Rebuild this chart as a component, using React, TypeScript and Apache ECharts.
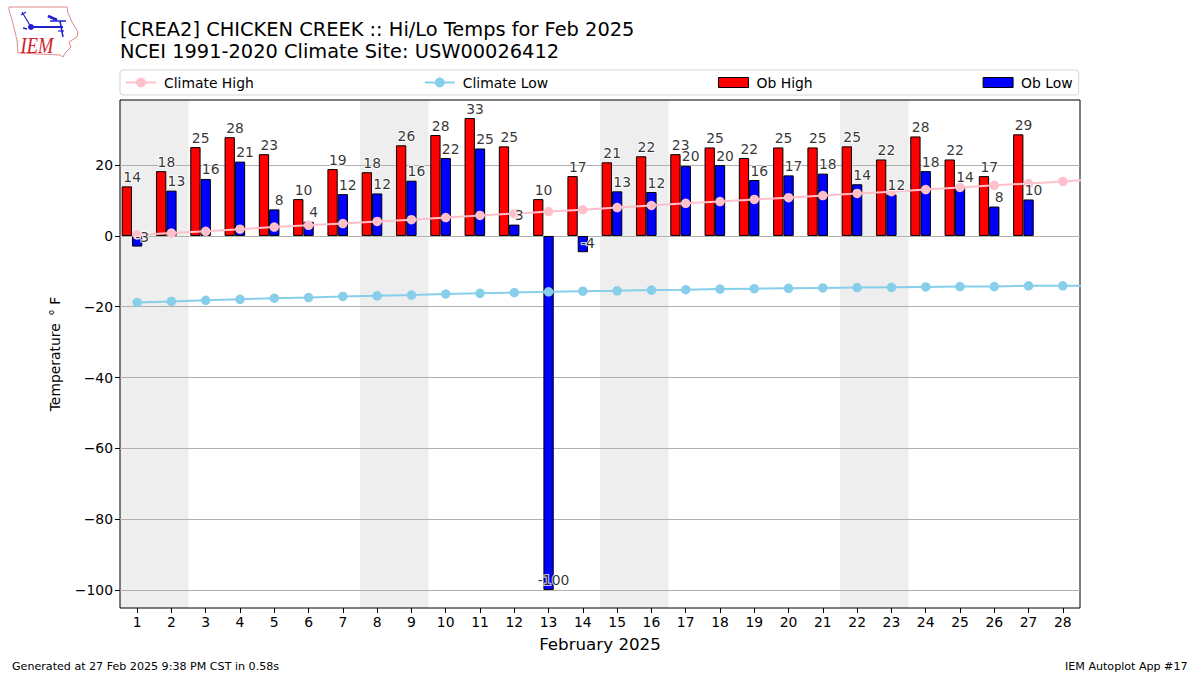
import React, { useEffect, useRef } from "react";
import * as echarts from "echarts";

const days = [1, 2, 3, 4, 5, 6, 7, 8, 9, 10, 11, 12, 13, 14, 15, 16, 17, 18, 19, 20, 21, 22, 23, 24, 25, 26, 27, 28];
const climateDays = [...days, 29];
const obHigh = [14.0, 18.3, 25.1, 27.9, 23.1, 10.4, 18.9, 18.0, 25.6, 28.5, 33.3, 25.3, 10.4, 16.9, 20.8, 22.5, 23.1, 25.0, 22.0, 25.0, 25.0, 25.3, 21.6, 28.1, 21.6, 16.9, 28.7];
const obLow = [-3.0, 12.8, 16.1, 21.0, 7.5, 4.0, 11.8, 12.0, 15.6, 22.0, 24.7, 3.2, -100, -4.6, 12.6, 12.4, 19.8, 20.0, 15.8, 17.1, 17.6, 14.6, 11.7, 18.3, 14.0, 8.3, 10.3];
const highLabels = ["14", "18", "25", "28", "23", "10", "19", "18", "26", "28", "33", "25", "10", "17", "21", "22", "23", "25", "22", "25", "25", "25", "22", "28", "22", "17", "29"];
const lowLabels = ["-3", "13", "16", "21", "8", "4", "12", "12", "16", "22", "25", "3", "-100", "-4", "13", "12", "20", "20", "16", "17", "18", "14", "12", "18", "14", "8", "10"];
const climateHigh = [0.3, 0.8, 1.3, 1.9, 2.5, 3.0, 3.5, 4.1, 4.6, 5.2, 5.8, 6.3, 6.9, 7.4, 8.0, 8.6, 9.2, 9.7, 10.3, 10.8, 11.4, 12.0, 12.5, 13.1, 13.7, 14.3, 14.8, 15.4, 16.0];
const climateLow = [-18.8, -18.5, -18.2, -17.9, -17.6, -17.4, -17.1, -16.9, -16.7, -16.4, -16.2, -16.0, -15.8, -15.6, -15.5, -15.3, -15.2, -15.0, -14.9, -14.8, -14.7, -14.6, -14.5, -14.4, -14.3, -14.3, -14.1, -14.1, -14.0];
const yTicks = [-100, -80, -60, -40, -20, 0, 20];
const weekendBands = [[0.5, 2.5], [7.5, 9.5], [14.5, 16.5], [21.5, 23.5]];

const FONT = "DejaVu Sans";
const IOWA = [[9, 7], [67, 7], [68, 13], [72, 22], [78, 32], [77, 37], [69, 42], [71, 47], [65, 53], [63, 57], [60, 55], [18, 53], [17, 40], [12, 20], [9, 10], [9, 7]];
const LOGO_BLUE = "#2222cc";
const blueLine = (x1: number, y1: number, x2: number, y2: number, lineWidth: number) => ({
  type: "line", shape: { x1, y1, x2, y2 }, style: { stroke: LOGO_BLUE, lineWidth },
});

export default function App() {
  const ref = useRef<HTMLDivElement>(null);
  useEffect(() => {
    const chart = echarts.init(ref.current!, null, { renderer: "svg" });
    const barStyle = (color: string) => ({ color, borderColor: "#000", borderWidth: 1 });
    const labelSeries = (name: string, vals: number[], labels: string[], dx: number) => ({
      type: "scatter",
      name,
      z: 6,
      silent: true,
      symbolSize: 1,
      itemStyle: { color: "transparent" },
      data: vals.map((v, i) => ({
        value: [days[i], v],
        label: { formatter: labels[i] },
      })),
      label: {
        show: true,
        position: "top",
        distance: 2,
        offset: [dx, 0],
        color: "#000",
        fontFamily: FONT,
        fontSize: 13.9,
        textBorderColor: "#fff",
        textBorderWidth: 2,
      },
    });
    chart.setOption({
      animation: false,
      title: {
        text: "[CREA2] CHICKEN CREEK :: Hi/Lo Temps for Feb 2025\nNCEI 1991-2020 Climate Site: USW00026412",
        left: 120,
        top: 18,
        padding: 0,
        textStyle: { fontFamily: FONT, fontSize: 19.4, fontWeight: "normal", color: "#000", lineHeight: 22.5 },
      },
      legend: {
        left: 120,
        top: 70,
        padding: [5.5, 6, 5.5, 5],
        itemGap: 170,
        itemWidth: 30,
        itemHeight: 10,
        borderColor: "#d5d5d5",
        borderWidth: 1,
        borderRadius: 3,
        data: [
          { name: "Climate High", itemStyle: { borderColor: "#ffc0cb", borderWidth: 2 } },
          { name: "Climate Low", itemStyle: { borderColor: "#87ceeb", borderWidth: 2 } },
          { name: "Ob High", icon: "rect", itemStyle: { borderColor: "#000", borderWidth: 1 } },
          { name: "Ob Low", icon: "rect", itemStyle: { borderColor: "#000", borderWidth: 1 } },
        ],
        textStyle: { fontFamily: FONT, fontSize: 13.9, color: "#000", padding: [0, 0, 0, 3] },
      },
      grid: { left: 120, right: 120, top: 100, bottom: 67, show: true, borderColor: "#000", borderWidth: 1, backgroundColor: "transparent" },
      xAxis: {
        type: "value",
        min: 0.5,
        max: 28.5,
        name: "February 2025",
        nameLocation: "middle",
        nameGap: 27,
        nameTextStyle: { fontFamily: FONT, fontSize: 16.7, color: "#000" },
        axisLine: { show: false, onZero: false },
        splitLine: { show: false },
        axisTick: { show: true, length: 5, customValues: days, lineStyle: { color: "#000" } },
        axisLabel: { customValues: days, fontFamily: FONT, fontSize: 13.9, color: "#000", margin: 7 },
      },
      yAxis: {
        type: "value",
        min: -105.1,
        max: 38.4,
        name: "Temperature \u2009\u00b0 F",
        nameLocation: "middle",
        nameGap: 58,
        nameTextStyle: { fontFamily: FONT, fontSize: 13.9, color: "#000" },
        axisLine: { show: false, onZero: false },
        axisTick: { show: true, length: 5, customValues: yTicks, lineStyle: { color: "#000" } },
        axisLabel: {
          customValues: yTicks,
          fontFamily: FONT,
          fontSize: 13.9,
          color: "#000",
          margin: 7,
          formatter: (v: number) => String(v).replace("-", "\u2212"),
        },
        splitLine: { show: true, lineStyle: { color: "#b0b0b0", width: 1 } },
      },
      series: [
        {
          type: "line",
          name: "__bands",
          z: -2,
          silent: true,
          data: [],
          markArea: {
            silent: true,
            z: -2,
            itemStyle: { color: "#eeeeee" },
            data: weekendBands.map(([a, b]) => [{ xAxis: a }, { xAxis: b }]),
          },
        },
        { type: "bar", name: "Ob High", z: 2, barWidth: 10.3, barGap: 0, itemStyle: barStyle("#ff0000"), data: obHigh.map((v, i) => [days[i], v]) },
        { type: "bar", name: "Ob Low", z: 2, barWidth: 10.3, barGap: 0, itemStyle: barStyle("#0000ff"), data: obLow.map((v, i) => [days[i], v]) },
        { type: "bar", name: "__spacer", z: 2, barWidth: 10.3, barGap: 0, data: [] },
        {
          type: "line", name: "Climate High", z: 4, symbol: "circle", symbolSize: 9.5, showSymbol: true,
          lineStyle: { color: "#ffc0cb", width: 2 }, itemStyle: { color: "#ffc0cb" },
          data: climateHigh.map((v, i) => [climateDays[i], v]),
        },
        {
          type: "line", name: "Climate Low", z: 4, symbol: "circle", symbolSize: 9.5, showSymbol: true,
          lineStyle: { color: "#87ceeb", width: 2 }, itemStyle: { color: "#87ceeb" },
          data: climateLow.map((v, i) => [climateDays[i], v]),
        },
        labelSeries("__highLabels", obHigh, highLabels, -5),
        labelSeries("__lowLabels", obLow, lowLabels, 5),
      ],
      graphic: [
        { type: "polyline", shape: { points: IOWA }, style: { stroke: "#e08a8a", fill: "none", lineWidth: 1 } },
        blueLine(31, 27, 63, 27, 2),
        { type: "circle", shape: { cx: 31, cy: 27, r: 3 }, style: { fill: LOGO_BLUE } },
        blueLine(48, 16, 57, 20, 3),
        blueLine(50, 21, 66, 21, 1.5),
        blueLine(60, 21, 63, 37, 1.5),
        blueLine(58, 31, 64, 31, 1.2),
        blueLine(22, 12, 31, 27, 1.2),
        blueLine(21, 15, 26, 12, 1.2),
        blueLine(23, 28, 27, 29, 1.5),
        { type: "text", x: 20.5, y: 34, scaleY: 1.2, style: { text: "IEM", fontFamily: "Liberation Serif", fontStyle: "italic", fontSize: 18.5, fill: "#d0202a" } },
        { type: "text", x: 12, y: 661, style: { text: "Generated at 27 Feb 2025 9:38 PM CST in 0.58s", fontFamily: FONT, fontSize: 11.1, fill: "#000" } },
        { type: "text", x: 1065, y: 661, style: { text: "IEM Autoplot App #17", fontFamily: FONT, fontSize: 11.1, fill: "#000" } },
      ],
    });
    return () => chart.dispose();
  }, []);
  return <div ref={ref} style={{ position: "absolute", left: 0, top: 0, width: 1200, height: 675 }} />;
}
